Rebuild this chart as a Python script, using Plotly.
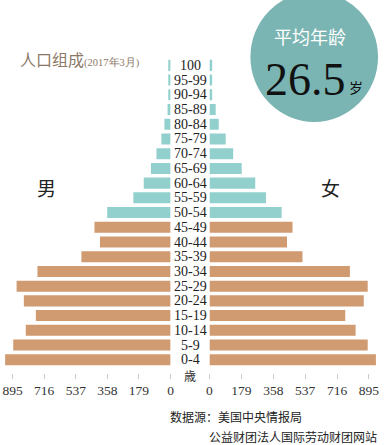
import plotly.graph_objects as go

ages = ["0-4", "5-9", "10-14", "15-19", "20-24", "25-29", "30-34", "35-39", "40-44", "45-49",
        "50-54", "55-59", "60-64", "65-69", "70-74", "75-79", "80-84", "85-89", "90-94", "95-99", "100"]
male = [937, 891, 820, 763, 831, 872, 754, 505, 400, 431,
        359, 211, 152, 111, 80, 52, 35, 17, 13, 13, 13]
female = [934, 888, 820, 762, 866, 888, 788, 522, 435, 466,
          405, 317, 257, 181, 133, 91, 52, 35, 15, 15, 15]
tick_vals = [0, 179, 358, 537, 716, 895]
tick_text = ["0", "179", "358", "537", "716", "895"]

TEAL = "#92d0cd"
TAN = "#d19b72"
colors = [TEAL if i >= 10 else TAN for i in range(len(ages))]
pos = list(range(len(ages)))

W, H = 384, 445
T, B = 58.1, 445 - 373.2
PH = H - T - B

def px(x):
    return x / W

def py(y):
    return (H - B - y) / PH

SERIF = "Liberation Serif, Times New Roman, serif"
CJK = "Noto Sans CJK SC"

fig = go.Figure()
fig.add_trace(go.Bar(y=pos, x=male, orientation="h", marker=dict(color=colors, line=dict(width=0)),
                     xaxis="x", yaxis="y", width=0.75, showlegend=False, hoverinfo="x"))
fig.add_trace(go.Bar(y=pos, x=female, orientation="h", marker=dict(color=colors, line=dict(width=0)),
                     xaxis="x2", yaxis="y", width=0.75, showlegend=False, hoverinfo="x"))

axis_common = dict(tickvals=tick_vals, ticktext=tick_text, ticks="outside", ticklen=5,
                   tickcolor="#cccccc", tickwidth=1, showgrid=False, zeroline=False, showline=False,
                   tickfont=dict(family=SERIF, size=13.5, color="#333333"), fixedrange=True)

fig.update_layout(
    width=W, height=H,
    margin=dict(l=0, r=0, t=T, b=B, pad=0),
    paper_bgcolor="white", plot_bgcolor="white",
    xaxis=dict(domain=[0, 170.7 / W], range=[949, 0], **axis_common),
    xaxis2=dict(domain=[210.3 / W, 1], range=[0, 957], anchor="y", **axis_common),
    yaxis=dict(range=[-0.9, 20.5], showticklabels=False, showgrid=False, zeroline=False,
               showline=False, ticks="", fixedrange=True),
    bargap=0.25,
)

annotations = []
for i, a in enumerate(ages):
    annotations.append(dict(x=190.5 / W, y=i, xref="paper", yref="y", text=a, showarrow=False,
                            font=dict(family=SERIF, size=14, color="#222222"),
                            xanchor="center", yanchor="middle"))
annotations += [
    dict(x=px(190.5), y=py(376), xref="paper", yref="paper", text="歳", showarrow=False,
         font=dict(family=CJK, size=12, color="#333333"), xanchor="center", yanchor="middle"),
    dict(x=px(15), y=py(59), xref="paper", yref="paper",
         text="人口组成<span style='font-size:10.5px;font-family:Liberation Serif'>(2017年3月)</span>",
         showarrow=False, font=dict(family=CJK, size=16, color="#8c7a68"),
         xanchor="left", yanchor="middle"),
    dict(x=px(44), y=py(188), xref="paper", yref="paper", text="男", showarrow=False,
         font=dict(family=CJK, size=19, color="#222222"), xanchor="center", yanchor="middle"),
    dict(x=px(334), y=py(188), xref="paper", yref="paper", text="女", showarrow=False,
         font=dict(family=CJK, size=19, color="#222222"), xanchor="center", yanchor="middle"),
    dict(x=px(313), y=py(36), xref="paper", yref="paper", text="平均年龄", showarrow=False,
         font=dict(family=CJK, size=18, color="white"), xanchor="center", yanchor="middle"),
    dict(x=px(308), y=py(80), xref="paper", yref="paper", text="26.5", showarrow=False,
         font=dict(family=SERIF, size=46, color="#111111"), xanchor="center", yanchor="middle"),
    dict(x=px(360), y=py(87), xref="paper", yref="paper", text="岁", showarrow=False,
         font=dict(family=CJK, size=14, color="#111111"), xanchor="center", yanchor="middle"),
    dict(x=px(168), y=py(417), xref="paper", yref="paper", text="数据源：美国中央情报局", showarrow=False,
         font=dict(family=CJK, size=12, color="#222222"), xanchor="left", yanchor="middle"),
    dict(x=px(383), y=py(437), xref="paper", yref="paper", text="公益财团法人国际劳动财团网站",
         showarrow=False, font=dict(family=CJK, size=12, color="#222222"),
         xanchor="right", yanchor="middle"),
]
fig.update_layout(annotations=annotations)

fig.add_shape(type="circle", xref="paper", yref="paper",
              x0=px(252), x1=px(382), y0=py(-8), y1=py(122),
              fillcolor="#7bb5b3", line=dict(width=0), layer="below")

fig.write_html("out.html", config={"displayModeBar": False},
               post_script="document.body.style.margin='0';document.body.style.overflow='hidden';")
